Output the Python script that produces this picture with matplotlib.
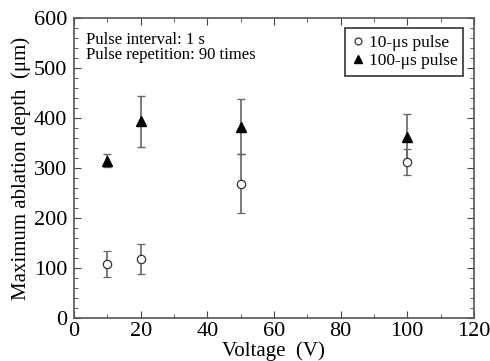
#!/usr/bin/env python3
"""Maximum ablation depth vs voltage for two pulse widths."""

import matplotlib.pyplot as plt
from matplotlib.lines import Line2D
from matplotlib.ticker import MultipleLocator

voltage = [10, 20, 50, 100]
depth_10us = [109, 119, 269, 313]
err_10us = [26, 30, 59, 26]
depth_100us = [315, 394, 383, 363]
err_100us = [13, 51, 55, 46]

plt.rcParams["font.family"] = ["Liberation Serif", "DejaVu Serif"]

fig = plt.figure(figsize=(4.9, 3.61), dpi=100)
ax = fig.add_axes([0.151, 0.119, 0.816, 0.831])

ax.errorbar(voltage, depth_10us, yerr=err_10us, fmt="o", mfc="white",
            mec="#333333", ms=6, mew=0.9, ecolor="#666666", elinewidth=1.2,
            capsize=3, capthick=1)
ax.errorbar(voltage, depth_100us, yerr=err_100us, fmt="^", color="black",
            ms=7, ecolor="#666666", elinewidth=1.2, capsize=3, capthick=1)

ax.set_xlim(0, 120)
ax.set_ylim(0, 600)
ax.xaxis.set_major_locator(MultipleLocator(20))
ax.xaxis.set_minor_locator(MultipleLocator(10))
ax.yaxis.set_major_locator(MultipleLocator(100))
ax.yaxis.set_minor_locator(MultipleLocator(20))
ax.tick_params(which="both", direction="in", top=True, right=True,
               color="#444444", labelsize=16)
ax.tick_params(axis="y", pad=5)
ax.tick_params(axis="x", pad=3)
ax.tick_params(which="major", length=5)
ax.tick_params(which="minor", length=3)
for s in ax.spines.values():
    s.set_color("#555555")
    s.set_linewidth(1.2)

ax.set_xlabel("Voltage  (V)", fontsize=15, labelpad=0)
ax.set_ylabel("Maximum ablation depth  (μm)", fontsize=15, labelpad=2)

ax.text(0.03, 0.955, "Pulse interval: 1 s\nPulse repetition: 90 times",
        transform=ax.transAxes, fontsize=12, va="top", ha="left",
        linespacing=0.95)

handles = [
    Line2D([], [], ls="none", marker="o", mfc="white", mec="#333333",
           ms=5, mew=0.9),
    Line2D([], [], ls="none", marker="^", color="black", ms=6),
]
labels = ["10-μs pulse", "100-μs pulse"]
leg = ax.legend(handles, labels, loc="upper right", fontsize=12.5,
                frameon=True, fancybox=False, edgecolor="black",
                handletextpad=0.2, handlelength=0.8, borderpad=0.35,
                labelspacing=0.15, borderaxespad=0.6)
leg.get_frame().set_linewidth(1.2)

fig.savefig("out.png", dpi=100)
